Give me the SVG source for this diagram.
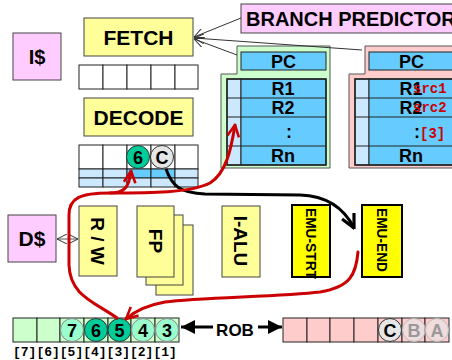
<svg xmlns="http://www.w3.org/2000/svg" width="452" height="360" viewBox="0 0 452 360">
<defs>
<style>
.t{font-family:"Liberation Sans",Arial,sans-serif;font-weight:bold;fill:#000}
.m{font-family:"Liberation Mono","Courier New",monospace;font-weight:bold}
.pink{fill:#ffccff;stroke:#444;stroke-width:1}
.yel{fill:#ffff99;stroke:#444;stroke-width:1}
.emu{fill:#ffff00;stroke:#000;stroke-width:2}
.cell{fill:#fff;stroke:#222;stroke-width:1}
.lb{fill:#cce8ff;stroke:#222;stroke-width:1}
.db{fill:#66ccff;stroke:#222;stroke-width:1}
.gc{fill:#ccffcc;stroke:#222;stroke-width:1}
.pc{fill:#ffcccc;stroke:#222;stroke-width:1}
.red{fill:none;stroke:#cc0000;stroke-width:3;stroke-linecap:round}
.thin{fill:none;stroke:#333;stroke-width:1}
</style>
<marker id="open" viewBox="0 0 10 10" refX="10" refY="5" markerWidth="10" markerHeight="10" markerUnits="userSpaceOnUse" orient="auto-start-reverse">
<path d="M0,0 L10,5 L0,10" fill="none" stroke="#333" stroke-width="1"/>
</marker>
<marker id="redv" viewBox="0 0 12 12" refX="11" refY="6" markerWidth="14" markerHeight="14" markerUnits="userSpaceOnUse" orient="auto">
<path d="M1,1 L11,6 L1,11" fill="none" stroke="#cc0000" stroke-width="2.2"/>
</marker>
<marker id="blkv" viewBox="0 0 12 12" refX="11" refY="6" markerWidth="16" markerHeight="16" markerUnits="userSpaceOnUse" orient="auto">
<path d="M1,1 L11,6 L1,11" fill="none" stroke="#000" stroke-width="2.4"/>
</marker>
<marker id="tri" viewBox="0 0 10 10" refX="10" refY="5" markerWidth="14" markerHeight="14" markerUnits="userSpaceOnUse" orient="auto-start-reverse">
<path d="M0,0 L10,5 L0,10 Z" fill="#000"/>
</marker>
</defs>

<g id="icache"><rect class="pink" x="13" y="33" width="48" height="47"/><text class="t" x="37" y="64" font-size="20" text-anchor="middle">I$</text></g>

<g id="fetch"><rect class="yel" x="84" y="18" width="109" height="38"/><text class="t" x="138.5" y="45" font-size="21" text-anchor="middle">FETCH</text></g>

<g id="fetch-buffer">
<rect class="cell" x="79" y="65" width="24" height="24"/><rect class="cell" x="103" y="65" width="24" height="24"/><rect class="cell" x="127" y="65" width="24" height="24"/><rect class="cell" x="151" y="65" width="24" height="24"/><rect class="cell" x="175" y="65" width="23" height="24"/>
</g>

<g id="decode"><rect class="yel" x="84" y="98" width="109" height="38"/><text class="t" x="138.5" y="125" font-size="21" text-anchor="middle">DECODE</text></g>

<g id="decode-buffer">
<rect class="cell" x="79" y="145" width="24" height="24"/><rect class="cell" x="103" y="145" width="24" height="24"/><rect class="cell" x="127" y="145" width="24" height="24"/><rect class="cell" x="151" y="145" width="24" height="24"/><rect class="cell" x="175" y="145" width="23" height="24"/>
<rect class="lb" x="79" y="169" width="24" height="9"/><rect class="lb" x="103" y="169" width="24" height="9"/><rect class="db" x="127" y="169" width="24" height="9"/><rect class="db" x="151" y="169" width="24" height="9"/><rect class="lb" x="175" y="169" width="23" height="9"/>
<rect class="lb" x="79" y="178" width="24" height="9"/><rect class="lb" x="103" y="178" width="24" height="9"/><rect class="lb" x="127" y="178" width="24" height="9"/><rect class="lb" x="151" y="178" width="24" height="9"/><rect class="lb" x="175" y="178" width="23" height="9"/>
<circle cx="138" cy="157" r="11.5" fill="#00cc99" stroke="#333"/><text class="t" x="138" y="163.5" font-size="18" text-anchor="middle">6</text>
<circle cx="162" cy="157" r="11.5" fill="#e6e6e6" stroke="#333"/><text class="t" x="162" y="163.5" font-size="18" text-anchor="middle">C</text>
</g>

<g id="branch-predictor"><rect class="pink" x="241" y="4" width="230" height="29"/><text class="t" x="246" y="26" font-size="20">BRANCH PREDICTOR</text></g>

<g id="checkpoint-green">
<polygon points="237,46 330,46 330,168 221,168 221,74 237,74" fill="#ccffcc" stroke="#555" stroke-width="1"/>
<rect class="db" x="241" y="52" width="85" height="18"/><text class="t" x="283.5" y="67.5" font-size="18" text-anchor="middle">PC</text>
<rect class="lb" x="227" y="79" width="14" height="86"/>
<rect class="db" x="241" y="79" width="85" height="86"/>
<line x1="227" y1="98" x2="326" y2="98" stroke="#222"/><line x1="227" y1="117" x2="326" y2="117" stroke="#222"/><line x1="227" y1="146" x2="326" y2="146" stroke="#222"/>
<rect x="227" y="79" width="99" height="86" fill="none" stroke="#222" stroke-width="1.5"/>
<text class="t" x="283" y="95" font-size="18" text-anchor="middle">R1</text>
<text class="t" x="283" y="114" font-size="18" text-anchor="middle">R2</text>
<text class="t" x="289" y="138" font-size="18" text-anchor="middle">:</text>
<text class="t" x="283" y="162" font-size="18" text-anchor="middle">Rn</text>
</g>

<g id="checkpoint-pink">
<polygon points="365,46 458,46 458,168 349,168 349,74 365,74" fill="#ffcccc" stroke="#555" stroke-width="1"/>
<rect class="db" x="369" y="52" width="85" height="18"/><text class="t" x="411.5" y="67.5" font-size="18" text-anchor="middle">PC</text>
<rect class="lb" x="355" y="79" width="14" height="86"/>
<rect class="db" x="369" y="79" width="85" height="86"/>
<line x1="355" y1="98" x2="454" y2="98" stroke="#222"/><line x1="355" y1="117" x2="454" y2="117" stroke="#222"/><line x1="355" y1="146" x2="454" y2="146" stroke="#222"/>
<rect x="355" y="79" width="99" height="86" fill="none" stroke="#222" stroke-width="1.5"/>
<text class="t" x="411" y="95" font-size="18" text-anchor="middle">R1</text>
<text class="t" x="411" y="114" font-size="18" text-anchor="middle">R2</text>
<text class="t" x="417" y="138" font-size="18" text-anchor="middle">:</text>
<text class="t" x="411" y="162" font-size="18" text-anchor="middle">Rn</text>
<text class="m" x="413" y="93" font-size="14" fill="#cc0000">src1</text>
<text class="m" x="413" y="112" font-size="14" fill="#cc0000">src2</text>
<text class="m" x="420" y="138" font-size="14" fill="#cc0000">[3]</text>
</g>

<g id="dcache"><rect class="pink" x="8" y="215" width="48" height="47"/><text class="t" x="32" y="246" font-size="21" text-anchor="middle">D$</text></g>

<g id="rw"><rect class="yel" x="79" y="206" width="38" height="70"/><text class="t" transform="translate(98,241) rotate(90)" y="7" font-size="19" text-anchor="middle">R / W</text></g>

<g id="fp">
<rect class="yel" x="156" y="225" width="37" height="70"/>
<rect class="yel" x="146" y="215" width="37" height="70"/>
<rect class="yel" x="137" y="206" width="37" height="71"/>
<text class="t" transform="translate(155.5,241) rotate(90)" y="7" font-size="19" text-anchor="middle">FP</text>
</g>

<g id="ialu"><rect class="yel" x="222" y="206" width="38" height="71"/><text class="t" transform="translate(241,241) rotate(90)" y="7" font-size="19" text-anchor="middle">I-ALU</text></g>

<g id="emu-strt"><rect class="emu" x="292" y="205" width="38" height="72"/><text class="t" transform="translate(311,243.5) rotate(90)" y="5.5" font-size="15.5" text-anchor="middle" textLength="71" lengthAdjust="spacingAndGlyphs">EMU-STRT</text></g>

<g id="emu-end"><rect class="emu" x="362" y="205" width="40" height="72"/><text class="t" transform="translate(382,240) rotate(90)" y="5.5" font-size="15.5" text-anchor="middle" textLength="64" lengthAdjust="spacingAndGlyphs">EMU-END</text></g>

<g id="rob-green">
<rect class="gc" x="13" y="318" width="24" height="24"/><rect class="gc" x="37" y="318" width="23" height="24"/><rect class="gc" x="60" y="318" width="24" height="24"/><rect class="gc" x="84" y="318" width="24" height="24"/><rect class="gc" x="108" y="318" width="23" height="24"/><rect class="gc" x="131" y="318" width="24" height="24"/><rect class="gc" x="155" y="318" width="24" height="24"/>
<circle cx="72" cy="330" r="11.5" fill="#99ffcc" stroke="#888"/><text class="t" x="72" y="336.5" font-size="18" text-anchor="middle">7</text>
<circle cx="96" cy="330" r="11.5" fill="#00cc99" stroke="#333"/><text class="t" x="96" y="336.5" font-size="18" text-anchor="middle">6</text>
<circle cx="119.5" cy="330" r="11.5" fill="#00cc99" stroke="#333"/><text class="t" x="119.5" y="336.5" font-size="18" text-anchor="middle">5</text>
<circle cx="143" cy="330" r="11.5" fill="#99ffcc" stroke="#888"/><text class="t" x="143" y="336.5" font-size="18" text-anchor="middle">4</text>
<circle cx="167" cy="330" r="11.5" fill="#99ffcc" stroke="#888"/><text class="t" x="167" y="336.5" font-size="18" text-anchor="middle">3</text>
<text class="m" x="13" y="356" font-size="13" fill="#000">[7][6][5][4][3][2][1]</text>
</g>

<g id="rob-label"><text class="t" x="235" y="336" font-size="17" text-anchor="middle">ROB</text></g>

<g id="rob-pink">
<rect class="pc" x="283" y="318" width="24" height="24"/><rect class="pc" x="307" y="318" width="23" height="24"/><rect class="pc" x="330" y="318" width="24" height="24"/><rect class="pc" x="354" y="318" width="24" height="24"/><rect class="pc" x="378" y="318" width="24" height="24"/><rect class="pc" x="402" y="318" width="23" height="24"/><rect class="pc" x="425" y="318" width="24" height="24"/>
<circle cx="390" cy="330" r="11.5" fill="#e6e6e6" stroke="#333"/><text class="t" x="390" y="336.5" font-size="18" text-anchor="middle">C</text>
<circle cx="414" cy="330" r="11.5" fill="#e6e6e6" fill-opacity="0.6" stroke="#bbb"/><text class="t" x="414" y="336.5" font-size="18" text-anchor="middle" style="fill:#999">B</text>
<circle cx="437" cy="330" r="11.5" fill="#e6e6e6" fill-opacity="0.6" stroke="#bbb"/><text class="t" x="437" y="336.5" font-size="18" text-anchor="middle" style="fill:#999">A</text>
</g>

<g id="connectors">
<line class="thin" x1="241" y1="18" x2="194" y2="37" marker-end="url(#open)"/>
<line class="thin" x1="362" y1="50" x2="194" y2="38" marker-end="url(#open)"/>
<line class="thin" x1="237" y1="55" x2="194" y2="39" marker-end="url(#open)"/>
<line x1="57" y1="239" x2="78" y2="239" stroke="#555" stroke-width="1" marker-start="url(#open)" marker-end="url(#open)"/>
<path d="M166,169 C172,186 180,193 205,194 L300,195 C330,196 345,210 354,228" fill="none" stroke="#000" stroke-width="3" marker-end="url(#blkv)"/>
<path class="red" d="M117,318 C95,302 70,296 69,265 L69,215 C69,198 80,193 110,193 C124,193 129,188 131,171" marker-end="url(#redv)"/>
<path class="red" d="M110,193 C150,193 190,193 210,183 C226,173 231,150 235,125" marker-end="url(#redv)"/>
<path class="red" d="M358,252 C356,275 350,287 320,292 C280,297 200,297 165,302 C148,305 136,310 126,319" marker-end="url(#redv)"/>
<line x1="213" y1="327" x2="181" y2="327" stroke="#000" stroke-width="3" marker-end="url(#tri)"/>
<line x1="258" y1="327" x2="282" y2="327" stroke="#000" stroke-width="3" marker-end="url(#tri)"/>
</g>
</svg>
